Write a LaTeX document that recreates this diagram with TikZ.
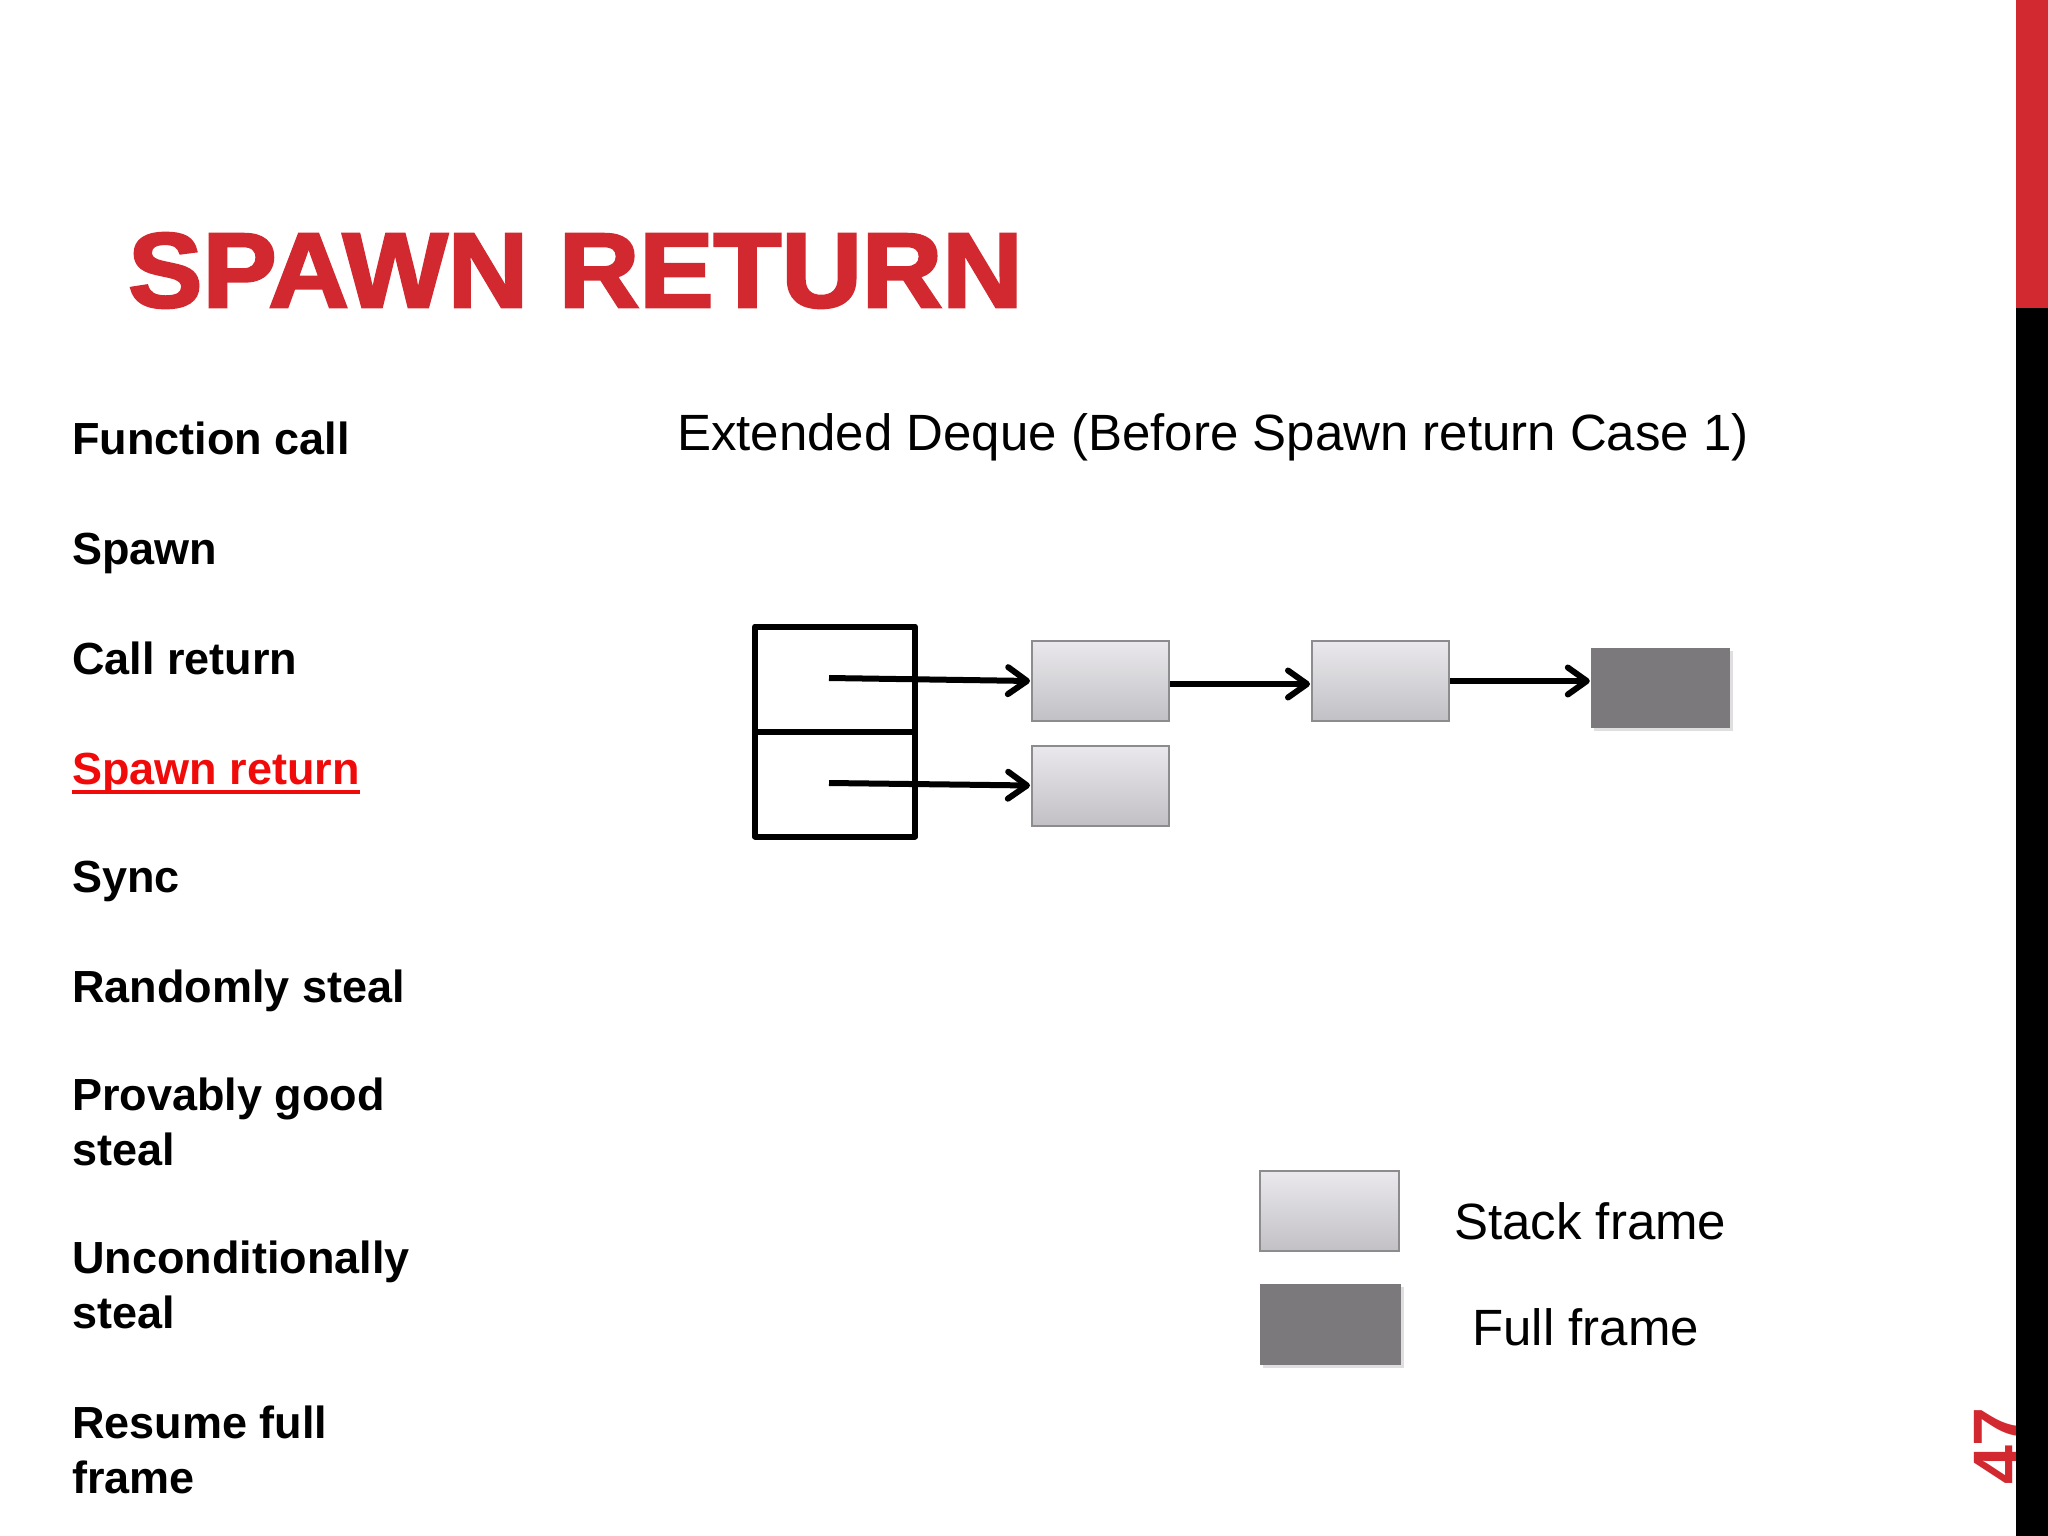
\documentclass[tikz,border=0pt]{standalone}
\usepackage{fontspec}
\setmainfont{Liberation Sans}
\newfontfamily\titlefont[FakeBold=2.5]{Liberation Sans Bold}
\usetikzlibrary{arrows.meta,shadows}
\definecolor{slidered}{RGB}{210,40,48}
\definecolor{menured}{RGB}{240,10,10}
\definecolor{stacktop}{RGB}{234,232,236}
\definecolor{stackbot}{RGB}{194,192,196}
\definecolor{stackedge}{RGB}{140,140,142}
\definecolor{fullfill}{RGB}{123,121,124}
\tikzset{
  menuitem/.style={anchor=base west, inner sep=0pt, align=left,
    font=\fontsize{45}{55}\selectfont\bfseries},
  stackbox/.style={rectangle, minimum width=137pt, minimum height=80pt,
    top color=stacktop, bottom color=stackbot, draw=stackedge, line width=2pt},
  fullbox/.style={rectangle, minimum width=139pt, minimum height=80pt,
    fill=fullfill, draw=none,
    drop shadow={opacity=0.25, shadow xshift=3pt, shadow yshift=-3pt}},
  dequecell/.style={rectangle, draw=black, line width=6pt, line join=round,
    minimum width=160pt, minimum height=105pt, inner sep=0pt},
  arr/.style={line width=6pt, shorten >=1pt,
    -{Straight Barb[length=19pt, width=27pt, line width=6pt, round]}},
  plain/.style={anchor=base west, inner sep=0pt, font=\fontsize{51}{60}\selectfont}
}
\begin{document}
\begin{tikzpicture}[x=1pt,y=-1pt]
\useasboundingbox (0,0) rectangle (2048,1536);
\fill[white] (0,0) rectangle (2048,1536);

% title
\node[anchor=base west, inner sep=0pt, text=slidered,
  font=\fontsize{106}{120}\titlefont, xscale=1.05] (title) at (128,307) {SPAWN RETURN};

% page number and side bar
\node[rotate=90, anchor=base, inner sep=0pt, text=slidered,
  font=\fontsize{70}{80}\selectfont\bfseries] (pagenum) at (2022,1446) {47};
\fill[slidered] (2016,0) rectangle (2048,308);
\fill[black] (2016,308) rectangle (2048,1536);

% menu
\node[menuitem] (m1) at (72,454) {Function call};
\node[menuitem] (m2) at (72,564) {Spawn};
\node[menuitem] (m3) at (72,674) {Call return};
\node[menuitem, text=menured] (m4) at (72,784) {Spawn return};
\draw[menured, line width=4pt] ([yshift=-8pt]m4.base west) -- ([yshift=-8pt]m4.base east);
\node[menuitem] (m5) at (72,892) {Sync};
\node[menuitem] (m6) at (72,1002) {Randomly steal};
\node[menuitem] (m7) at (72,1165) {Provably good\\steal};
\node[menuitem] (m8) at (72,1328) {Unconditionally\\steal};
\node[menuitem] (m9) at (72,1493) {Resume full\\frame};

% heading
\node[plain] (head) at (677,450) {Extended Deque (Before Spawn return Case 1)};

% deque
\node[dequecell] (q1) at (835,679) {};
\node[dequecell] (q2) at (835,784) {};
\coordinate (s1) at (829,678);
\coordinate (s2) at (829,783);

% frames
\node[stackbox] (A) at (1100.5,681) {};
\node[stackbox] (B) at (1380.5,681) {};
\node[fullbox] (C) at (1660.5,687.5) {};
\node[stackbox] (D) at (1100.5,785.5) {};

\draw[arr] (s1) -- (A.west);
\draw[arr] (s2) -- (D.west);
\draw[arr] ([yshift=-3pt]A.east) -- ([yshift=-3pt]A.east -| B.west);
\draw[arr] (B.east) -- (B.east -| C.west);

% legend
\node[stackbox, minimum width=139pt] (L1) at (1329.5,1211) {};
\node[fullbox, minimum width=141pt, minimum height=81pt] (L2) at (1330.5,1324.5) {};
\node[plain] (L1t) at (1454,1239) {Stack frame};
\node[plain] (L2t) at (1472,1345) {Full frame};
\end{tikzpicture}
\end{document}
